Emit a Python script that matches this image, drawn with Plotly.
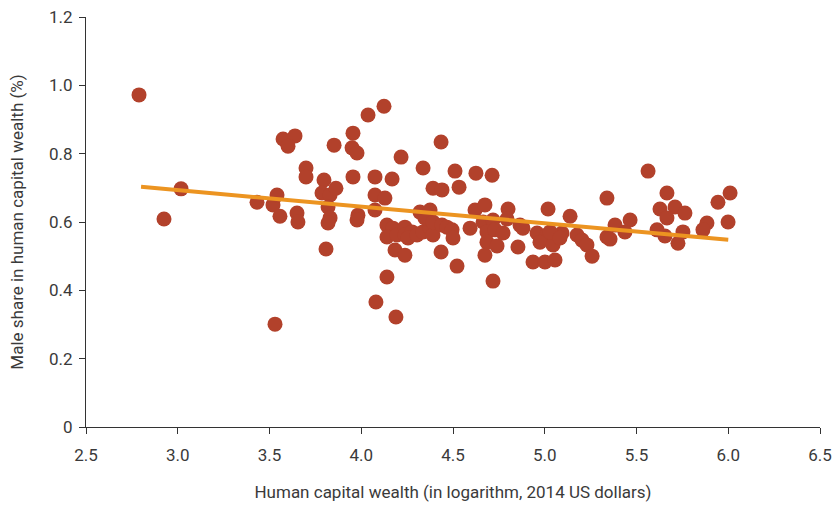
import plotly.graph_objects as go

x_vals = [2.789, 2.925, 3.018, 3.432, 3.519, 3.541, 3.530, 3.557, 3.574, 3.639,
          3.601, 3.650, 3.655, 3.699, 3.699, 3.797, 3.786, 3.830, 3.819, 3.830,
          3.819, 3.808, 3.852, 3.862, 3.955, 3.950, 3.977, 3.955, 3.982, 3.977,
          4.037, 4.124, 4.075, 4.075, 4.129, 4.075, 4.080, 4.168, 4.140, 4.173,
          4.140, 4.195, 4.238, 4.238, 4.140, 4.189, 4.184, 4.238, 4.217, 4.277,
          4.255, 4.304, 4.337, 4.375, 4.391, 4.320, 4.375, 4.347, 4.391, 4.440,
          4.467, 4.495, 4.500, 4.337, 4.435, 4.391, 4.440, 4.533, 4.511, 4.625,
          4.713, 4.435, 4.522, 4.593, 4.620, 4.674, 4.664, 4.718, 4.685, 4.729,
          4.773, 4.685, 4.740, 4.674, 4.718, 4.800, 4.794, 4.865, 4.881, 4.854,
          5.018, 4.958, 5.012, 4.974, 5.045, 5.094, 4.936, 5.001, 5.056, 5.138,
          5.029, 5.176, 5.203, 5.230, 5.258, 5.339, 5.383, 5.465, 5.437, 5.339,
          5.356, 5.563, 5.666, 5.628, 5.710, 5.764, 5.666, 5.612, 5.655, 5.726,
          5.753, 5.884, 5.862, 5.944, 6.010, 5.999, 5.083]
y_vals = [0.972, 0.609, 0.697, 0.658, 0.650, 0.679, 0.301, 0.617, 0.843, 0.852,
          0.822, 0.626, 0.600, 0.758, 0.732, 0.723, 0.685, 0.679, 0.644, 0.612,
          0.597, 0.521, 0.825, 0.699, 0.860, 0.817, 0.802, 0.732, 0.620, 0.606,
          0.913, 0.939, 0.732, 0.679, 0.670, 0.635, 0.366, 0.726, 0.591, 0.582,
          0.556, 0.562, 0.585, 0.562, 0.439, 0.322, 0.518, 0.503, 0.790, 0.571,
          0.553, 0.562, 0.571, 0.582, 0.562, 0.629, 0.635, 0.612, 0.600, 0.591,
          0.585, 0.577, 0.553, 0.758, 0.834, 0.699, 0.694, 0.702, 0.749, 0.743,
          0.737, 0.512, 0.471, 0.582, 0.635, 0.650, 0.600, 0.606, 0.571, 0.577,
          0.568, 0.541, 0.530, 0.503, 0.427, 0.638, 0.609, 0.591, 0.582, 0.527,
          0.638, 0.568, 0.562, 0.541, 0.533, 0.568, 0.483, 0.483, 0.489, 0.617,
          0.571, 0.562, 0.547, 0.533, 0.500, 0.670, 0.591, 0.606, 0.571, 0.556,
          0.550, 0.749, 0.685, 0.638, 0.644, 0.626, 0.612, 0.577, 0.559, 0.538,
          0.571, 0.597, 0.577, 0.658, 0.685, 0.600, 0.553]

trend_x = [2.8, 6.0]
trend_y = [0.703, 0.548]

x_ticks = [2.5, 3.0, 3.5, 4.0, 4.5, 5.0, 5.5, 6.0, 6.5]
x_tick_labels = ["2.5", "3.0", "3.5", "4.0", "4.5", "5.0", "5.5", "6.0", "6.5"]
y_ticks = [0, 0.2, 0.4, 0.6, 0.8, 1.0, 1.2]
y_tick_labels = ["0", "0.2", "0.4", "0.6", "0.8", "1.0", "1.2"]

FONT = "Roboto, Liberation Sans, Arial, sans-serif"

fig = go.Figure()
fig.add_trace(go.Scatter(
    x=x_vals, y=y_vals, mode="markers",
    marker=dict(size=15, color="#b2412b", line=dict(width=0)),
    showlegend=False, hoverinfo="x+y"))
fig.add_trace(go.Scatter(
    x=trend_x, y=trend_y, mode="lines",
    line=dict(color="#ec9421", width=4),
    showlegend=False, hoverinfo="skip"))

fig.update_layout(
    width=835, height=506,
    margin=dict(l=86, r=15, t=17, b=79),
    plot_bgcolor="white", paper_bgcolor="white",
    font=dict(family=FONT, size=17, color="#3a3a3a"),
    xaxis=dict(
        range=[2.5, 6.5], tickvals=x_ticks, ticktext=x_tick_labels,
        showgrid=False, zeroline=False, showline=True, linecolor="#333333",
        linewidth=1, ticks="outside", ticklen=6, tickcolor="#333333",
        automargin=False, ticklabelstandoff=7, ticklabeloverflow="allow",
        title=dict(text="Human capital wealth (in logarithm, 2014 US dollars)",
                   font=dict(size=17), standoff=21),
        tickfont=dict(size=17)),
    yaxis=dict(
        range=[0, 1.2], tickvals=y_ticks, ticktext=y_tick_labels,
        showgrid=False, zeroline=False, showline=True, linecolor="#333333",
        linewidth=1, ticks="outside", ticklen=6, tickcolor="#333333",
        automargin=False, ticklabelstandoff=3, ticklabeloverflow="allow",
        title=dict(text="Male share in human capital wealth (%)",
                   font=dict(size=17), standoff=21),
        tickfont=dict(size=17)),
)

fig.write_html("out.html",
               config={"displayModeBar": False},
               post_script="document.body.style.margin='0';document.body.style.overflow='hidden';")
